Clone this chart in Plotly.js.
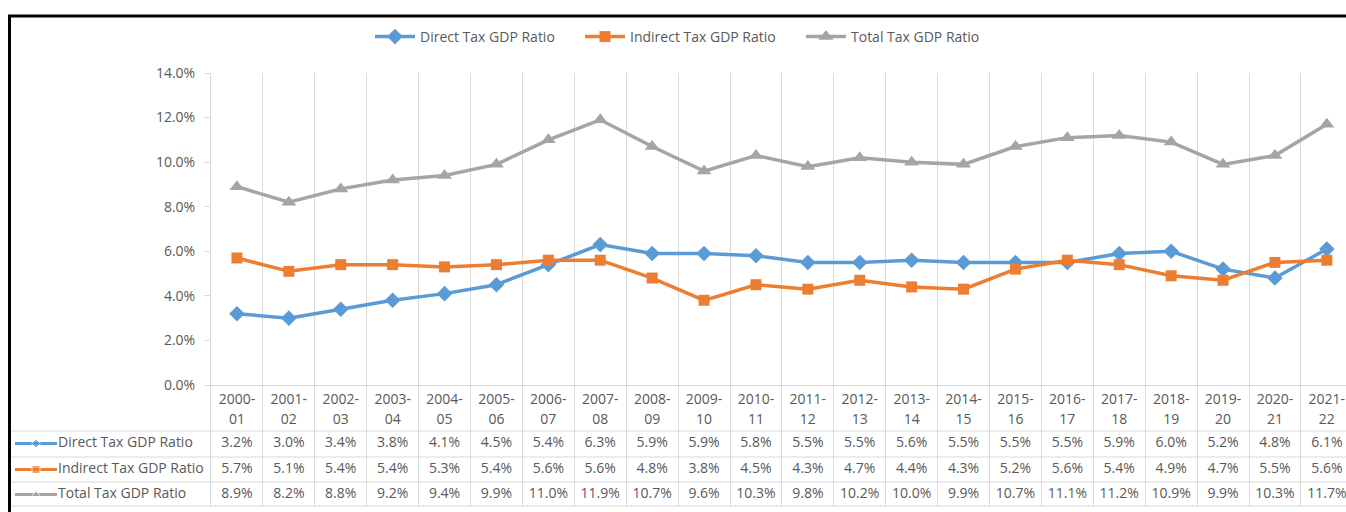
<!DOCTYPE html>
<html>
<head>
<meta charset="utf-8">
<script src="https://cdn.plot.ly/plotly-3.0.1.min.js"></script>
<style>
  html, body { margin: 0; padding: 0; background: #fff; overflow: hidden; }
  #chart { width: 1346px; height: 512px; }
</style>
</head>
<body>
<div id="chart"></div>
<script>
// ---- data ----
const categories = ['2000-01','2001-02','2002-03','2003-04','2004-05','2005-06','2006-07','2007-08','2008-09','2009-10','2010-11','2011-12','2012-13','2013-14','2014-15','2015-16','2016-17','2017-18','2018-19','2019-20','2020-21','2021-22'];
const seriesNames = ['Direct Tax GDP Ratio', 'Indirect Tax GDP Ratio', 'Total Tax GDP Ratio'];
const directTax   = [3.2,3.0,3.4,3.8,4.1,4.5,5.4,6.3,5.9,5.9,5.8,5.5,5.5,5.6,5.5,5.5,5.5,5.9,6.0,5.2,4.8,6.1];
const indirectTax = [5.7,5.1,5.4,5.4,5.3,5.4,5.6,5.6,4.8,3.8,4.5,4.3,4.7,4.4,4.3,5.2,5.6,5.4,4.9,4.7,5.5,5.6];
const totalTax    = [8.9,8.2,8.8,9.2,9.4,9.9,11.0,11.9,10.7,9.6,10.3,9.8,10.2,10.0,9.9,10.7,11.1,11.2,10.9,9.9,10.3,11.7];

// ---- layout helpers ----
const W = 1346, H = 512;
const px = x => x / W;
const py = y => 1 - y / H;
const TXT = '#595959';
const GRID = '#d9d9d9';
const FONT = 'Open Sans, Noto Sans, sans-serif';

const seriesVals = [directTax, indirectTax, totalTax];
const colors = ['#5B9BD5', '#ED7D31', '#A5A5A5'];
const symbols = ['diamond', 'square', 'triangle-up'];
const msizes = [12, 11, 13];
const keySizes = [7, 8, 8];
const legendWidths = [155, 166, 130];
const rowY = [58.5, 84.5, 109.5];   // table row centres (pixels below category axis)

const traces = [];
// main lines
seriesVals.forEach((vals, i) => {
  traces.push({
    type: 'scatter', mode: 'lines+markers',
    name: seriesNames[i], x: categories, y: vals,
    xaxis: 'x', yaxis: 'y', legendwidth: legendWidths[i],
    line: { color: colors[i], width: 3.5 },
    marker: { color: colors[i], symbol: symbols[i], size: msizes[i] },
    hoverinfo: 'x+y+name'
  });
});

// table header (category labels in two lines)
traces.push({
  type: 'scatter', mode: 'text', x: categories, y: categories.map(() => 15.5),
  text: categories.map(c => c.split('-')[0] + '-'),
  xaxis: 'x', yaxis: 'y2', showlegend: false, hoverinfo: 'skip', cliponaxis: false,
  textfont: { family: FONT, size: 14, color: TXT }
});
traces.push({
  type: 'scatter', mode: 'text', x: categories, y: categories.map(() => 35.5),
  text: categories.map(c => c.split('-')[1]),
  xaxis: 'x', yaxis: 'y2', showlegend: false, hoverinfo: 'skip', cliponaxis: false,
  textfont: { family: FONT, size: 14, color: TXT }
});

// table values
seriesVals.forEach((vals, i) => {
  traces.push({
    type: 'scatter', mode: 'text', x: categories, y: categories.map(() => rowY[i]),
    text: vals.map(v => v.toFixed(1) + '%'),
    xaxis: 'x', yaxis: 'y2', showlegend: false, hoverinfo: 'skip', cliponaxis: false,
    textfont: { family: FONT, size: 14, color: TXT }
  });
});

// table row keys and labels (left column)
seriesVals.forEach((vals, i) => {
  traces.push({
    type: 'scatter', mode: 'lines+markers',
    x: [15, 36, 57], y: [rowY[i], rowY[i], rowY[i]],
    xaxis: 'x2', yaxis: 'y2', showlegend: false, hoverinfo: 'skip', cliponaxis: false,
    line: { color: colors[i], width: 3 },
    marker: { color: colors[i], symbol: symbols[i], size: [0, keySizes[i], 0] }
  });
  traces.push({
    type: 'scatter', mode: 'text',
    x: [58], y: [rowY[i]], text: [seriesNames[i]], textposition: 'middle right',
    xaxis: 'x2', yaxis: 'y2', showlegend: false, hoverinfo: 'skip', cliponaxis: false,
    textfont: { family: FONT, size: 14, color: TXT }
  });
});

// horizontal table lines + frame
const rowLines = [431, 457, 482, 506];
const shapes = rowLines.map(y => ({
  type: 'line', xref: 'paper', yref: 'paper',
  x0: px(11), x1: 1, y0: py(y), y1: py(y),
  line: { color: GRID, width: 1 }
}));
shapes.push({ type: 'line', xref: 'paper', yref: 'paper', x0: px(8), x1: 1, y0: py(16), y1: py(16), line: { color: '#000', width: 3 } });
shapes.push({ type: 'line', xref: 'paper', yref: 'paper', x0: px(9.5), x1: px(9.5), y0: py(15), y1: 0, line: { color: '#000', width: 3 } });

const plotLeft = 211, catW = 51.9;
const visibleCats = (W - plotLeft) / catW;

const layout = {
  width: W, height: H,
  margin: { l: 0, r: 0, t: 0, b: 0 },
  paper_bgcolor: '#fff', plot_bgcolor: 'rgba(0,0,0,0)',
  font: { family: FONT, size: 14, color: TXT },
  showlegend: true,
  legend: {
    orientation: 'h', x: px(370), xanchor: 'left', y: py(37), yanchor: 'middle',
    itemwidth: 40,
    font: { family: FONT, size: 14, color: TXT }, bgcolor: 'rgba(0,0,0,0)'
  },
  xaxis: {
    type: 'category', categoryorder: 'array', categoryarray: categories,
    domain: [px(plotLeft), 1], range: [-0.5, -0.5 + visibleCats],
    anchor: 'y', tickson: 'boundaries', showgrid: true, gridcolor: GRID, gridwidth: 1,
    showticklabels: false, ticks: '', showline: true, linecolor: GRID, linewidth: 1,
    zeroline: false, fixedrange: true
  },
  yaxis: {
    domain: [py(385), py(73)], range: [0, 14], dtick: 2, tick0: 0,
    tickformat: '.1f', ticksuffix: '%', anchor: 'x',
    showgrid: false, zeroline: false, showline: true, linecolor: GRID, linewidth: 1,
    ticks: 'outside', ticklen: 6, tickcolor: GRID, ticklabelstandoff: 6,
    tickfont: { family: FONT, size: 14, color: TXT }, fixedrange: true
  },
  yaxis2: {
    domain: [py(506), py(385)], range: [121, 0], anchor: 'x',
    showgrid: false, zeroline: false, showticklabels: false, ticks: '',
    showline: true, linecolor: GRID, linewidth: 1, fixedrange: true
  },
  xaxis2: {
    domain: [0, px(plotLeft)], range: [0, plotLeft], anchor: 'y2', visible: false, fixedrange: true
  },
  shapes: shapes
};

Plotly.newPlot('chart', traces, layout, { displayModeBar: false, staticPlot: true });
</script>
</body>
</html>
